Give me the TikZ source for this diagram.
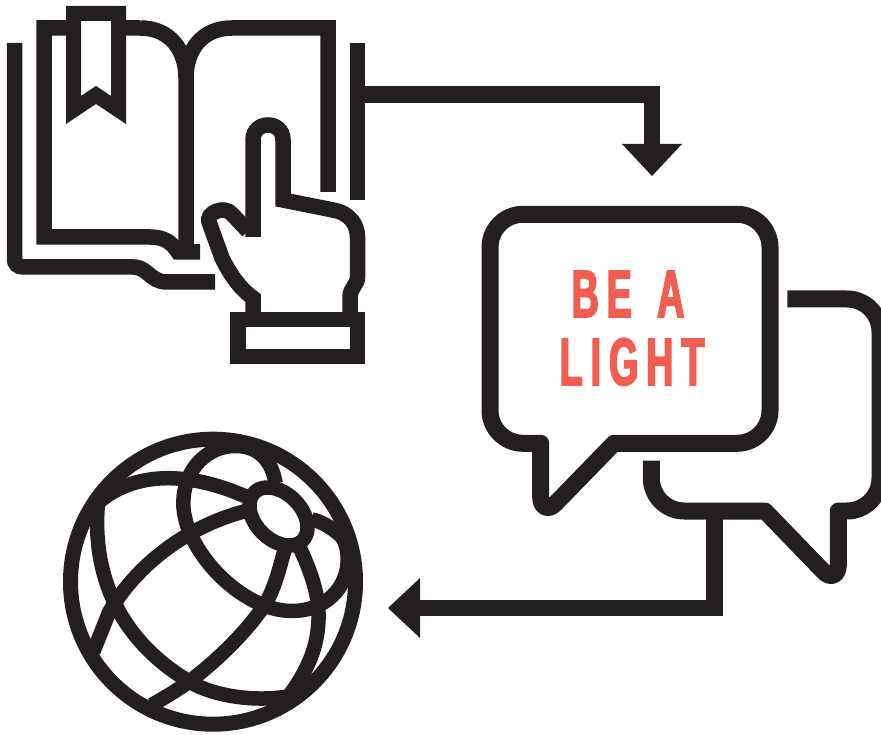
\documentclass[tikz,border=0pt]{standalone}
\usepackage{fontspec}
\usetikzlibrary{arrows.meta}
\newfontfamily\belight[LetterSpace=12,FakeStretch=0.56,FakeBold=2.5]{Liberation Sans Bold}
\definecolor{ink}{HTML}{231F20}
\definecolor{coral}{HTML}{F25D52}
\tikzset{
  icon/.style={draw=ink,line width=15.5pt,line join=miter,miter limit=10},
  bubble/.style={draw=ink,line width=17pt,line join=round},
  grid/.style={draw=ink,line width=14.5pt,line join=round},
  flow/.style={draw=ink,line width=16.5pt,-{Triangle[length=32pt,width=60pt,line width=0pt]}},
  slogan/.style={text=coral,anchor=base,inner sep=0pt,font=\belight\fontsize{67}{67}\selectfont}
}
\begin{document}
\begin{tikzpicture}[x=1pt,y=-1pt]
\useasboundingbox (0,0) rectangle (881,735);
\clip (0,0) rectangle (881,735);
% open book
\draw[icon] (14.5,43) -- (14.5,259) .. controls (14.5,264) and (18,267) .. (23,267) -- (133,267) .. controls (148,267) and (150,282) .. (167,282) -- (215,282);
\draw[icon] (140,28) -- (44,28) -- (44,237) -- (150,237) .. controls (165,237) and (172,243) .. (178,252) -- (200,252);
\draw[icon] (140,28) .. controls (170,28) and (186,50) .. (186,78) -- (186,252);
\draw[icon] (328,192) -- (328,28) -- (232,28) .. controls (202,28) and (186,50) .. (186,78);
\draw[icon] (357.5,43) -- (357.5,200);
% bookmark
\fill[white] (81,21) -- (111,21) -- (111,96) -- (96,86) -- (81,96) -- cycle;
\fill[ink,even odd rule] (66,6) -- (126,6) -- (126,124) -- (96,104) -- (66,124) -- cycle
  (81,21) -- (111,21) -- (111,96) -- (96,86) -- (81,96) -- cycle;
% hand
\draw[icon] (253,312) -- (253,298) .. controls (238,287) and (229,272) .. (222,258) -- (209,222)
  .. controls (206,213) and (224,205) .. (232,214) -- (248,231);
\draw[icon] (253,237) -- (253,140) .. controls (253,120) and (283,120) .. (283,140) -- (283,200) -- (333,210)
  .. controls (350,213) and (357.5,225) .. (357.5,237) -- (357.5,277) .. controls (357.5,285) and (350,288) .. (350,297) -- (350,312);
\draw[icon] (238,319.5) rectangle (357.5,356.5);
% speech bubbles
\draw[bubble] (490,300) -- (490,410.3) .. controls (490,428.5) and (504.8,443.3) .. (523,443.3) -- (540.7,443.3) -- (540.7,497)
  .. controls (540.7,508) and (549,511) .. (556,503) -- (614,443.3) -- (737,443.3) .. controls (755.2,443.3) and (770,428.5) .. (770,410.3)
  -- (770,247.3) .. controls (770,229.1) and (755.2,214.3) .. (737,214.3) -- (523,214.3) .. controls (504.8,214.3) and (490,229.1) .. (490,247.3) -- cycle;
\draw[bubble] (787.3,299) -- (847,299) .. controls (865.2,299) and (880,313.8) .. (880,332) -- (880,478) .. controls (880,496.2) and (865.2,511) .. (847,511)
  -- (838.3,511) -- (838.3,565) .. controls (838.3,576) and (830,579) .. (823,571) -- (765,511) -- (684.3,511)
  .. controls (666.1,511) and (651.3,496.2) .. (651.3,478) -- (651.3,460.7);
\node[slogan] (bea) at (628,317) {BE\kern7pt{} A};
\node[slogan] (light) at (632,385) {LIGHT};
% globe
\draw[draw=ink,line width=15pt] (213,581.7) circle[radius=142.5];
\begin{scope}[shift={(50,420)},x=0.33333pt,y=-0.33333pt]
\draw[grid] (130,262) .. controls (220,170) and (380,135) .. (600,235);
\draw[grid] (677,190) .. controls (665,120) and (625,78) .. (555,78) .. controls (470,78) and (400,150) .. (400,250)
  .. controls (400,390) and (575,573) .. (725,573) .. controls (830,573) and (893,500) .. (893,420)
  .. controls (893,385) and (885,360) .. (870,345) .. controls (840,320) and (815,305) .. (785,298);
\draw[grid] (600,270) .. controls (430,310) and (270,420) .. (178,575) -- (130,695);
\draw[grid] (145,240) .. controls (130,380) and (150,620) .. (410,780) .. controls (470,820) and (590,848) .. (710,830);
\draw[grid] (705,385) .. controls (690,440) and (675,500) .. (650,545) .. controls (590,640) and (480,740) .. (410,790) .. controls (370,818) and (340,835) .. (305,855);
\draw[grid] (750,385) .. controls (790,470) and (810,540) .. (805,610) .. controls (800,690) and (770,760) .. (700,850);
\end{scope}
\fill[white] plot[smooth cycle,samples=48,domain=0:352.5] ({278.5+34*cos(\x)*0.7071-23*sin(\x)*0.7071},{516.5+34*cos(\x)*0.7071+23*sin(\x)*0.7071});
\draw[draw=ink,line width=14.5pt] plot[smooth cycle,samples=48,domain=0:352.5] ({278.5+34*cos(\x)*0.7071-23*sin(\x)*0.7071},{516.5+34*cos(\x)*0.7071+23*sin(\x)*0.7071});
% connectors
\coordinate (bookedge) at (358,94.5);
\coordinate (talktop) at (652,176);
\coordinate (talkbase) at (714.5,511);
\coordinate (globeedge) at (388,608);
\draw[flow] (bookedge) -- (652,94.5) -- (talktop);
\draw[flow] (talkbase) -- (714.5,608) -- (globeedge);
\end{tikzpicture}
\end{document}
